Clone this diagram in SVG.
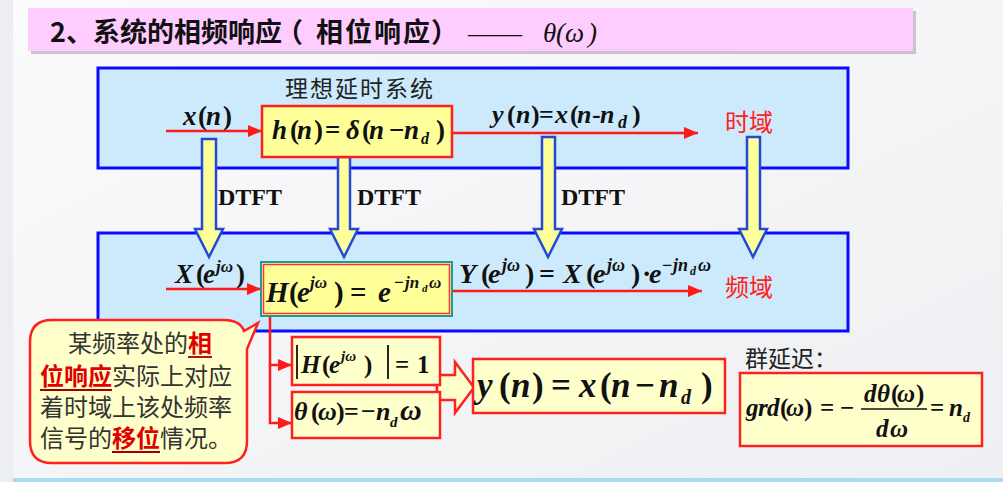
<svg xmlns="http://www.w3.org/2000/svg" width="1003" height="482" viewBox="0 0 1003 482">
<defs>
<style>
.cn{font-family:"Noto Sans CJK SC","Noto Sans",sans-serif}
.m{font-family:"Liberation Serif","Times New Roman",serif;font-weight:bold;font-style:italic;fill:#111}
.u{font-style:normal}
.red{fill:#ff2020}
.panel{fill:#cdeafc;stroke:#0a0aff;stroke-width:3}
.ybox{fill:#ffffcc;stroke:#ff2020;stroke-width:2.5}
.barrow{fill:#ffff99;stroke:#2448d8;stroke-width:2.5;stroke-linejoin:miter}
.conn{fill:none;stroke:#ff1a1a;stroke-width:2.5}
</style>
<linearGradient id="bg" x1="0" y1="0" x2="1" y2="1">
<stop offset="0" stop-color="#fbfbfc"/>
<stop offset="1" stop-color="#eeeff2"/>
</linearGradient>
<marker id="ah" markerWidth="14" markerHeight="12" refX="14" refY="6" orient="auto" markerUnits="userSpaceOnUse">
<path d="M0,0 L14,6 L0,12 z" fill="#ff1a1a"/>
</marker>
</defs>

<rect x="0" y="0" width="1003" height="482" fill="url(#bg)"/>
<rect x="0" y="0" width="13" height="482" fill="#eceef2"/>
<rect x="13" y="478" width="990" height="4" fill="#a8dcf5"/>

<g id="title">
<rect x="31" y="11" width="885" height="43" fill="#a898a8" opacity="0.55"/>
<rect x="28" y="8" width="885" height="43" fill="#ffccff"/>
<text class="cn" y="42" font-size="27" font-weight="bold" fill="#111"><tspan x="50">2、</tspan><tspan x="93">系统的相频响应</tspan><tspan x="276">（</tspan><tspan x="316" letter-spacing="2">相位响应</tspan><tspan x="431">）</tspan></text>
<text x="468" y="42" font-family="Liberation Serif,serif" font-size="27" fill="#111">——</text>
<text x="543 556 565 588" y="42" font-family="Liberation Serif,serif" font-style="italic" font-size="27" fill="#111">θ(ω)</text>
</g>

<g id="time-panel">
<rect class="panel" x="98" y="68" width="750" height="100"/>
<text class="cn" x="285" y="97" font-size="23" letter-spacing="2" fill="#222">理想延时系统</text>
<text class="m" y="125" font-size="27"><tspan x="183">x</tspan><tspan class="u" x="198">(</tspan><tspan x="206">n</tspan><tspan class="u" x="223">)</tspan></text>
<text class="m" y="123" font-size="26"><tspan x="492">y</tspan><tspan class="u" x="507">(</tspan><tspan x="516">n</tspan><tspan class="u" x="531 539">)=</tspan><tspan x="555">x</tspan><tspan class="u" x="570">(</tspan><tspan x="577">n</tspan><tspan class="u" x="592">-</tspan><tspan x="600">n</tspan><tspan x="618" dy="5" font-size="18">d</tspan><tspan class="u" x="632" dy="-5">)</tspan></text>
<text class="cn red" x="725" y="131" font-size="24">时域</text>
</g>

<g id="freq-panel">
<rect class="panel" x="98" y="233" width="750" height="98"/>
<text class="m" y="283" font-size="27"><tspan x="175">X</tspan><tspan class="u" x="196">(</tspan><tspan x="203">e</tspan><tspan x="216" dy="-11" font-size="17">jω</tspan><tspan class="u" x="236" dy="11">)</tspan></text>
<text class="m" y="283" font-size="28"><tspan x="459">Y</tspan><tspan class="u" x="481">(</tspan><tspan x="488">e</tspan><tspan x="502" dy="-12" font-size="18">jω</tspan><tspan class="u" x="525" dy="12">)</tspan><tspan class="u" x="539">=</tspan><tspan x="563">X</tspan><tspan class="u" x="586">(</tspan><tspan x="593">e</tspan><tspan x="607" dy="-12" font-size="18">jω</tspan><tspan class="u" x="631" dy="12">)</tspan><tspan class="u" x="642">·</tspan><tspan x="649">e</tspan><tspan class="u" x="662" dy="-12" font-size="18">−</tspan><tspan x="673" font-size="18">jn</tspan><tspan x="690" dy="4" font-size="12">d</tspan><tspan x="698" dy="-4" font-size="18">ω</tspan></text>
<text class="cn red" x="725" y="296" font-size="24">频域</text>
</g>

<g id="dtft-arrows">
<path class="barrow" d="M202,139 H216 V229 H223 L209,257 L195,229 H202 Z"/>
<path class="barrow" d="M338,157 H350 V229 H358 L344,257 L330,229 H338 Z"/>
<path class="barrow" d="M542,137 H555 V229 H562 L548,257 L534,229 H542 Z"/>
<path class="barrow" d="M747,137 H760 V229 H767 L753,257 L739,229 H747 Z"/>
<g font-family="Liberation Serif,serif" font-weight="bold" font-size="24" fill="#111">
<text x="218" y="205">DTFT</text>
<text x="357" y="205">DTFT</text>
<text x="561" y="205">DTFT</text>
</g>
</g>

<g id="connectors">
<line class="conn" x1="166" y1="131" x2="262" y2="131" marker-end="url(#ah)"/>
<line class="conn" x1="452" y1="133" x2="698" y2="133" marker-end="url(#ah)"/>
<line class="conn" x1="166" y1="289" x2="261" y2="289" marker-end="url(#ah)"/>
<line class="conn" x1="452" y1="291" x2="702" y2="291" marker-end="url(#ah)"/>
<path class="conn" d="M270,316 V365 H292" marker-end="url(#ah)"/>
<path class="conn" d="M270,365 V423 H292" marker-end="url(#ah)"/>
<path d="M437,375 H455 V362 L474,387.5 L455,413 V400 H437 Z" fill="#ffffcc" stroke="#ff2020" stroke-width="2.5"/>
</g>

<g id="h-box">
<rect x="262" y="106" width="190" height="51" fill="#ffff99" stroke="#ff2020" stroke-width="2.5"/>
<text class="m" y="139" font-size="27"><tspan x="272">h</tspan><tspan class="u" x="290">(</tspan><tspan x="297">n</tspan><tspan class="u" x="314">)</tspan><tspan class="u" x="325">=</tspan><tspan x="346">δ</tspan><tspan class="u" x="362">(</tspan><tspan x="369">n</tspan><tspan class="u" x="389">−</tspan><tspan x="404">n</tspan><tspan x="421" dy="5" font-size="16">d</tspan><tspan class="u" x="436" dy="-5">)</tspan></text>
</g>

<g id="H-box">
<rect x="261" y="262" width="191" height="54" fill="#ffff99" stroke="#1a9a9a" stroke-width="2"/>
<rect x="263.5" y="264.5" width="186" height="49" fill="none" stroke="#ff3030" stroke-width="1.5"/>
<text class="m" y="302" font-size="29"><tspan x="266">H</tspan><tspan class="u" x="289">(</tspan><tspan x="297">e</tspan><tspan x="310" dy="-14" font-size="17">jω</tspan><tspan class="u" x="334" dy="14">)</tspan><tspan class="u" x="350">=</tspan><tspan x="378">e</tspan><tspan class="u" x="394" dy="-14" font-size="17">−</tspan><tspan x="405" font-size="17">jn</tspan><tspan x="422" dy="4" font-size="11">d</tspan><tspan x="429" dy="-4" font-size="17">ω</tspan></text>
</g>

<g id="mag-box">
<rect class="ybox" x="292" y="337" width="148" height="48"/>
<line x1="297" y1="345" x2="297" y2="379" stroke="#111" stroke-width="1.8"/>
<line x1="388" y1="345" x2="388" y2="379" stroke="#111" stroke-width="1.8"/>
<text class="m" y="373" font-size="25"><tspan x="301">H</tspan><tspan class="u" x="322">(</tspan><tspan x="329">e</tspan><tspan x="341" dy="-12" font-size="15">jω</tspan><tspan class="u" x="364" dy="12">)</tspan><tspan class="u" x="395">=</tspan><tspan class="u" x="417">1</tspan></text>
</g>

<g id="phase-box">
<rect class="ybox" x="292" y="392" width="148" height="46"/>
<text class="m" y="420" font-size="26"><tspan x="294">θ</tspan><tspan class="u" x="311">(</tspan><tspan x="318">ω</tspan><tspan class="u" x="336">)</tspan><tspan class="u" x="344">=</tspan><tspan class="u" x="361">−</tspan><tspan x="376">n</tspan><tspan x="390" dy="7" font-size="15">d</tspan><tspan x="400" dy="-7" font-size="30">ω</tspan></text>
</g>

<g id="y-box">
<rect class="ybox" x="473" y="359" width="252" height="54"/>
<text class="m" y="397" font-size="35"><tspan x="477">y</tspan><tspan class="u" x="499">(</tspan><tspan x="511">n</tspan><tspan class="u" x="532">)</tspan><tspan class="u" x="551">=</tspan><tspan x="579">x</tspan><tspan class="u" x="600">(</tspan><tspan x="611">n</tspan><tspan class="u" x="635">−</tspan><tspan x="659">n</tspan><tspan x="681" dy="7" font-size="20">d</tspan><tspan class="u" x="701" dy="-7">)</tspan></text>
</g>

<g id="group-delay">
<text class="cn" x="745" y="367" font-size="23" fill="#222">群延迟：</text>
<rect class="ybox" x="740" y="373" width="242" height="73"/>
<text class="m" y="416" font-size="25"><tspan x="746">g</tspan><tspan x="758">r</tspan><tspan x="767">d</tspan><tspan class="u" x="780">(</tspan><tspan x="786">ω</tspan><tspan class="u" x="804">)</tspan><tspan class="u" x="820">=</tspan><tspan class="u" x="840">−</tspan></text>
<text class="m" y="402" font-size="25"><tspan x="864">d</tspan><tspan x="877">θ</tspan><tspan class="u" x="891">(</tspan><tspan x="897">ω</tspan><tspan class="u" x="916">)</tspan></text>
<line x1="861" y1="409" x2="927" y2="409" stroke="#111" stroke-width="1.6"/>
<text class="m" y="437" font-size="25"><tspan x="876">d</tspan><tspan x="890">ω</tspan></text>
<text class="m" y="416" font-size="25"><tspan class="u" x="930">=</tspan><tspan x="949">n</tspan><tspan x="963" dy="6" font-size="14">d</tspan></text>
</g>

<g id="callout">
<path d="M52,320 H224 Q240,320 244,331 L258,323 L247,349 V441 Q247,463 225,463 H52 Q30,463 30,441 V342 Q30,320 52,320 Z" fill="#ffffcc" stroke="#ff2020" stroke-width="2.5"/>
<g class="cn" font-size="24" fill="#333">
<text x="68" y="352">某频率处的<tspan fill="#e00000" font-weight="bold">相</tspan></text>
<text x="40" y="385"><tspan fill="#e00000" font-weight="bold">位响应</tspan>实际上对应</text>
<text x="40" y="416">着时域上该处频率</text>
<text x="40" y="447">信号的<tspan fill="#e00000" font-weight="bold">移位</tspan>情况。</text>
</g>
<g stroke="#a00000" stroke-width="1.8">
<line x1="188" y1="357" x2="212" y2="357"/>
<line x1="40" y1="390" x2="112" y2="390"/>
<line x1="112" y1="452" x2="160" y2="452"/>
</g>
</g>
</svg>
